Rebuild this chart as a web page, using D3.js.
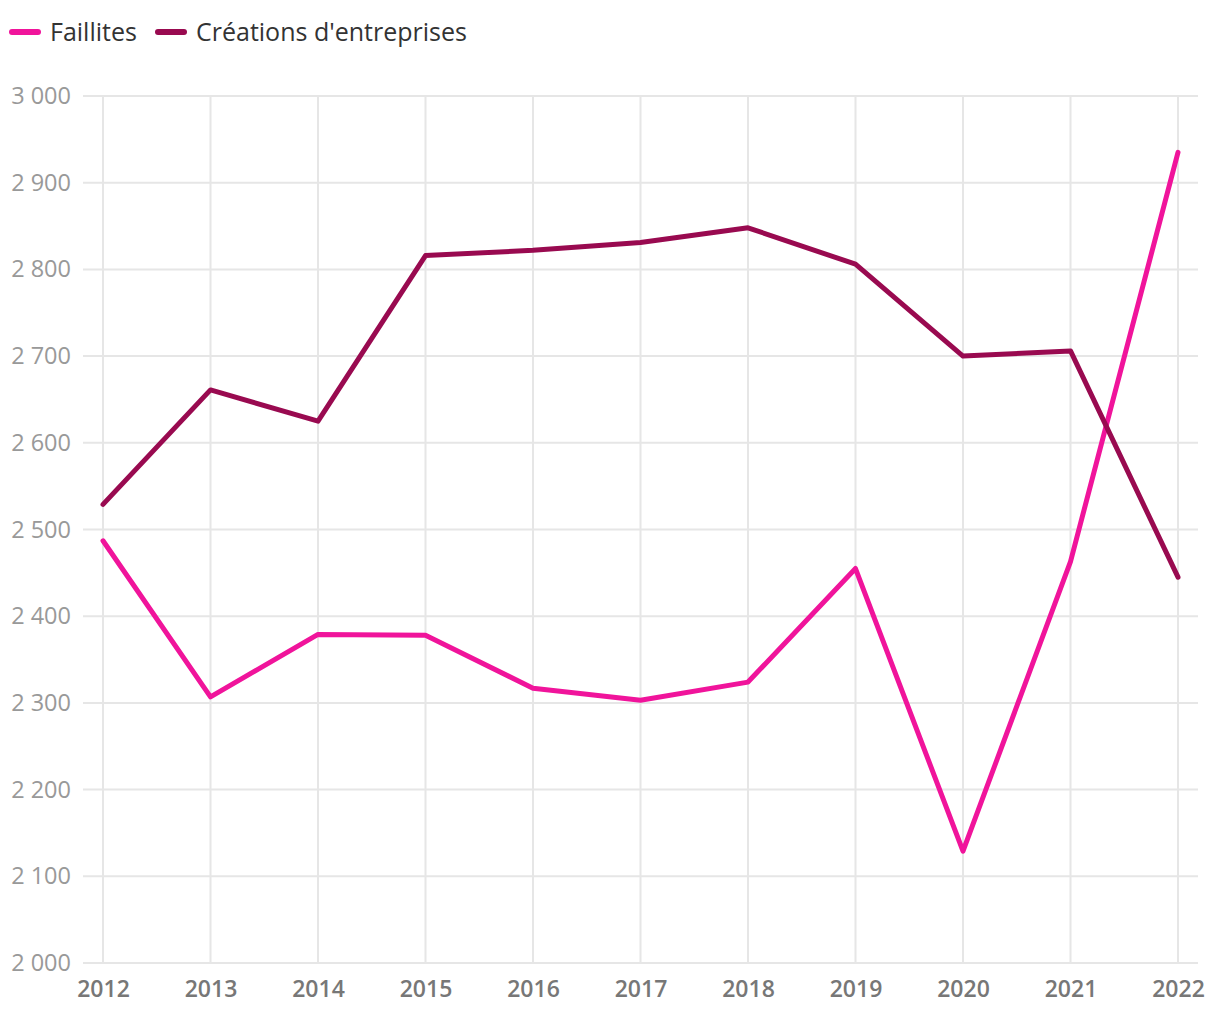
<!DOCTYPE html>
<html>
<head>
<meta charset="utf-8">
<script src="https://cdn.jsdelivr.net/npm/d3@7"></script>
<style>
  body { margin: 0; background: #fff; font-family: "Open Sans", sans-serif; }
</style>
</head>
<body>
<div id="chart"></div>
<script>
const years = [2012, 2013, 2014, 2015, 2016, 2017, 2018, 2019, 2020, 2021, 2022];
const faillites = [2487, 2307, 2379, 2378, 2317, 2303, 2324, 2455, 2129, 2463, 2935];
const creations = [2529, 2661, 2625, 2816, 2822, 2831, 2848, 2806, 2700, 2706, 2445];
const yTicks = [2000, 2100, 2200, 2300, 2400, 2500, 2600, 2700, 2800, 2900, 3000];

const series = [
  { name: "Faillites", values: faillites, color: "#f0149b" },
  { name: "Créations d'entreprises", values: creations, color: "#990a50" }
];

const svgWidth = 1220;
const svgHeight = 1020;

const svg = d3.select("#chart")
  .append("svg")
  .attr("width", svgWidth)
  .attr("height", svgHeight);

// scales
const x = d3.scalePoint()
  .domain(years)
  .range([103, 1178]);

const y = d3.scaleLinear()
  .domain([2000, 3000])
  .range([963, 96]);

const fmt = d => d3.format(",")(d).replace(/,/g, " ");

// horizontal grid lines
svg.append("g")
  .selectAll("line")
  .data(yTicks)
  .enter()
  .append("line")
  .attr("x1", 83)
  .attr("x2", 1198)
  .attr("y1", d => y(d))
  .attr("y2", d => y(d))
  .attr("stroke", "#e6e6e6")
  .attr("stroke-width", 2);

// vertical grid lines
svg.append("g")
  .selectAll("line")
  .data(years)
  .enter()
  .append("line")
  .attr("x1", d => x(d))
  .attr("x2", d => x(d))
  .attr("y1", y(3000))
  .attr("y2", y(2000))
  .attr("stroke", "#e6e6e6")
  .attr("stroke-width", 2);

// y axis labels
const yAxis = d3.axisLeft(y).tickValues(yTicks).tickFormat(fmt).tickSize(0).tickPadding(0);
svg.append("g")
  .attr("transform", "translate(71,0)")
  .call(yAxis)
  .call(g => g.select(".domain").remove())
  .selectAll("text")
  .attr("font-family", "'Open Sans', sans-serif")
  .attr("font-size", 23.5)
  .attr("font-weight", 500)
  .attr("fill", "#999");

// x axis labels
const xAxis = d3.axisBottom(x).tickSize(0).tickPadding(0);
svg.append("g")
  .attr("transform", "translate(0,981)")
  .call(xAxis)
  .call(g => g.select(".domain").remove())
  .selectAll("text")
  .attr("font-family", "'Open Sans', sans-serif")
  .attr("font-size", 23)
  .attr("font-weight", 600)
  .attr("fill", "#777");

// lines
const line = d3.line()
  .x((d, i) => x(years[i]))
  .y(d => y(d));

svg.append("g")
  .selectAll("path")
  .data(series)
  .enter()
  .append("path")
  .attr("d", d => line(d.values))
  .attr("fill", "none")
  .attr("stroke", d => d.color)
  .attr("stroke-width", 5)
  .attr("stroke-linejoin", "round")
  .attr("stroke-linecap", "round");

// legend
const legend = svg.append("g").attr("transform", "translate(0,32)");
const legendX = [12, 158];
series.forEach((s, i) => {
  const g = legend.append("g").attr("transform", `translate(${legendX[i]},0)`);
  g.append("line")
    .attr("x1", 0).attr("x2", 26)
    .attr("y1", 0).attr("y2", 0)
    .attr("stroke", s.color)
    .attr("stroke-width", 6)
    .attr("stroke-linecap", "round");
  g.append("text")
    .attr("x", 38)
    .attr("y", 9)
    .attr("font-family", "'Open Sans', sans-serif")
    .attr("font-size", 25)
    .attr("fill", "#333")
    .text(s.name);
});
</script>
</body>
</html>
